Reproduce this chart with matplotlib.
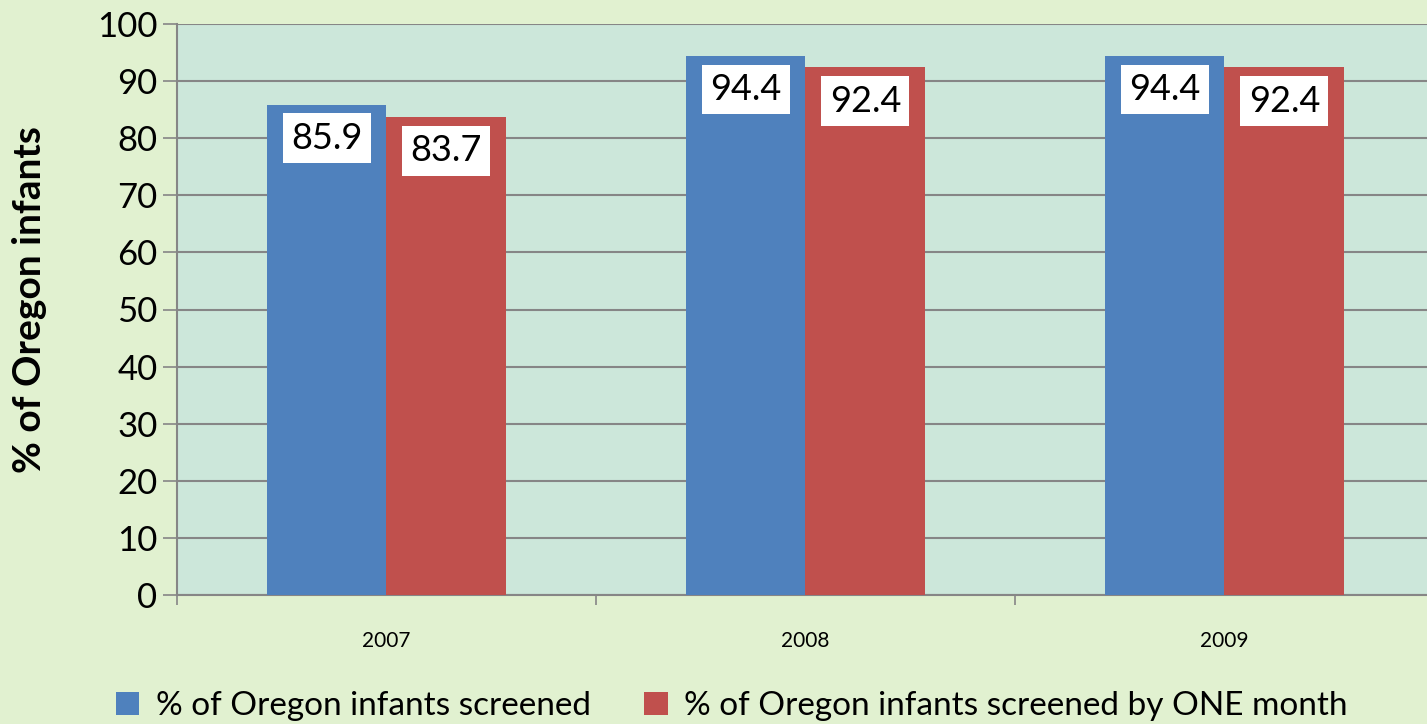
import numpy as np
import matplotlib.pyplot as plt

# Dados
years = ['2007', '2008', '2009']
screened = [85.9, 94.4, 94.4]
screened_one_month = [83.7, 92.4, 92.4]
series_labels = ['% of Oregon infants screened',
                 '% of Oregon infants screened by ONE month']

plt.rcParams['font.family'] = ['Lato', 'DejaVu Sans']

fig = plt.figure(figsize=(14.27, 7.24), dpi=100, facecolor='#E1F1D0')
ax = fig.add_axes([177 / 1427, 129 / 724, 1257 / 1427, 571 / 724])
ax.set_facecolor('#CCE7DA')

x = np.arange(len(years))
w = 0.286
b1 = ax.bar(x - w / 2, screened, w, color='#4F81BD', label=series_labels[0], zorder=3)
b2 = ax.bar(x + w / 2, screened_one_month, w, color='#C0504D', label=series_labels[1], zorder=3)

# etiquetas de valor em caixas brancas
for bars, vals in [(b1, screened), (b2, screened_one_month)]:
    for rect, v in zip(bars, vals):
        ax.text(rect.get_x() + rect.get_width() / 2, v - 5.9, f'{v:.1f}',
                ha='center', va='center', fontsize=26, color='black', zorder=4,
                bbox=dict(facecolor='white', edgecolor='none', pad=6))

ax.set_xlim(-0.5, 2.5)
ax.set_ylim(0, 100)
ax.set_yticks(range(0, 101, 10))
ax.tick_params(axis='y', labelsize=25, length=10, width=1.2, color='#868686', pad=4)
ax.yaxis.grid(True, color='#868686', linewidth=1.5, zorder=1)

# ticks do eixo x nas fronteiras das categorias
ax.set_xticks([-0.5, 0.5, 1.5, 2.5])
ax.set_xticklabels([])
ax.set_xticks(x, minor=True)
ax.set_xticklabels(years, minor=True)
ax.tick_params(axis='x', which='major', length=7, width=1.2, color='#868686')
ax.tick_params(axis='x', which='minor', length=0, labelsize=15, pad=26)

for s in ['top', 'right']:
    ax.spines[s].set_visible(False)
ax.spines['left'].set_color('#868686')
ax.spines['left'].set_linewidth(1.5)
ax.spines['bottom'].set_color('#868686')
ax.spines['bottom'].set_linewidth(1.5)

fig.text(30 / 1427, 1 - 300 / 724, '% of Oregon infants', rotation=90,
         ha='center', va='center', fontsize=28, fontweight='bold')

fig.legend(handles=[b1, b2], loc='center', bbox_to_anchor=(732 / 1427, 1 - 706 / 724),
           ncol=2, frameon=False, fontsize=24, handlelength=0.7, handleheight=0.7,
           handletextpad=0.5, columnspacing=1.6)

fig.savefig('out.png', dpi=100, facecolor=fig.get_facecolor())
